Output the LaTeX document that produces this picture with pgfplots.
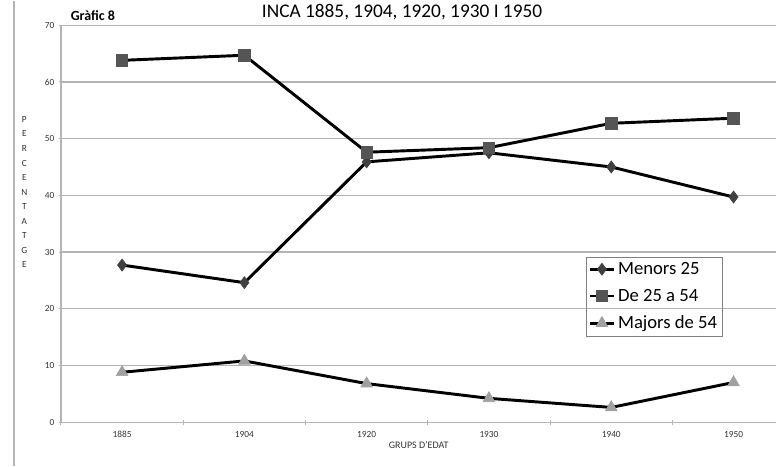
\documentclass[border=0pt]{standalone}
\usepackage{fontspec}
\setmainfont{Carlito}
\usepackage{pgfplots}
\pgfplotsset{compat=1.18}
\definecolor{gridgray}{HTML}{B4B4B4}
\definecolor{dmark}{HTML}{404040}
\definecolor{smark}{HTML}{555555}
\definecolor{tmark}{HTML}{A0A0A0}

\begin{document}
\begin{tikzpicture}
\begin{axis}[
    scale only axis,
    width=537pt, height=298pt,
    xmin=-0.5, xmax=5.35,
    ymin=0, ymax=70,
    ytick={0,10,...,70},
    xtick={0,...,5},
    xticklabels={1885,1904,1920,1930,1940,1950},
    minor xtick={-0.5,0.5,1.5,2.5,3.5,4.5},
    major x tick style={draw=none},
    minor tick length=4pt,
    major tick length=3pt,
    tick align=outside,
    tick style={gridgray, line width=0.8pt},
    axis x line=bottom, axis y line=left,
    axis line style={-, gridgray, line width=1pt},
    ymajorgrids,
    grid style={gridgray, line width=1pt},
    tick label style={font=\fontsize{7}{8}\selectfont, text=black!80},
    /pgf/number format/assume math mode=true,
    xticklabel style={yshift=-2pt},
    xlabel={GRUPS D'EDAT},
    xlabel style={font=\fontsize{7.5}{8}\selectfont, text=black!80, yshift=4pt},
    legend style={at={(axis cs:3.79,29.2)}, anchor=north west, draw=gray, fill=none,
        font=\fontsize{14}{16}\selectfont, row sep=5.5pt, inner sep=2pt},
    legend cell align=left,
    legend image code/.code={
        \draw[#1, mark repeat=2, mark phase=2] plot coordinates {(0pt,0pt) (9pt,0pt) (18pt,0pt)};},
    clip=true,
]
\addplot[black, line width=2.2pt, mark=diamond*, mark size=4.5pt,
    mark options={fill=dmark, draw=dmark, line width=0.5pt}] coordinates {
    (0,27.7) (1,24.6) (2,45.9) (3,47.5) (4,45.0) (5,39.7)};
\addlegendentry{Menors 25}
\addplot[black, line width=2.2pt, mark=square*, mark size=4.3pt,
    mark options={fill=smark, draw=smark, line width=0.5pt}] coordinates {
    (0,63.8) (1,64.7) (2,47.6) (3,48.4) (4,52.7) (5,53.6)};
\addlegendentry{De 25 a 54}
\addplot[black, line width=2.2pt, mark=triangle*, mark size=5pt,
    mark options={fill=tmark, draw=tmark, line width=0.5pt}] coordinates {
    (0,8.8) (1,10.8) (2,6.8) (3,4.2) (4,2.6) (5,7.0)};
\addlegendentry{Majors de 54}
\end{axis}
\draw[gridgray, line width=0.8pt] (-35.25pt,-33pt) -- (-35.25pt,316.5pt);
\node[font=\bfseries\fontsize{10.5}{11}\selectfont] at (24pt,305.5pt) {Gràfic 8};
\node[font=\fontsize{14.5}{16}\selectfont] at (256pt,307.5pt) {INCA 1885, 1904, 1920, 1930 I 1950};
\node[font=\fontsize{7}{10.9}\selectfont, text=black!80, align=center, anchor=north]
    at (-27.5pt,233pt) {P\\E\\R\\C\\E\\N\\T\\A\\T\\G\\E};
\useasboundingbox (-45.75pt,-33pt) rectangle (537pt,316.5pt);
\end{tikzpicture}
\end{document}
